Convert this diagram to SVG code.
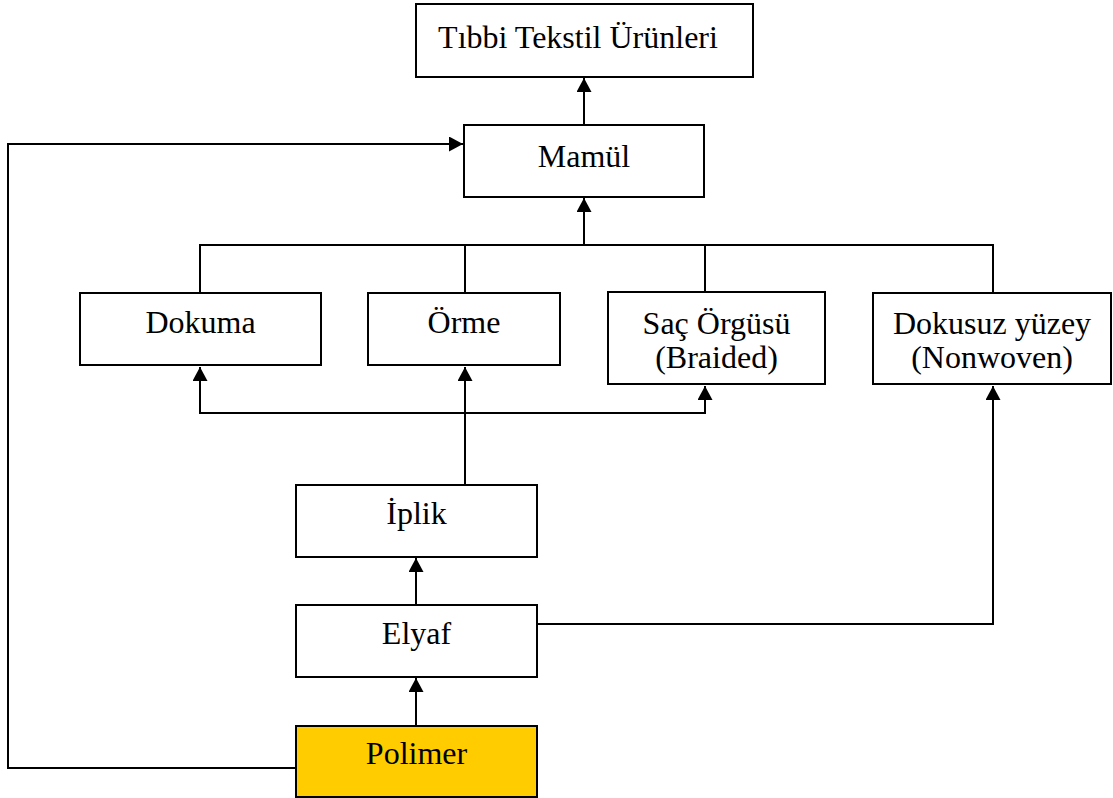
<svg xmlns="http://www.w3.org/2000/svg" width="1113" height="798" viewBox="0 0 1113 798">
<style>
.box{fill:#fff;stroke:#000;stroke-width:2}
.yel{fill:#FFCC00;stroke:#000;stroke-width:2}
.t{font-family:"Liberation Serif","Times New Roman",serif;font-size:32px;fill:#000;text-anchor:middle}
.c{fill:none;stroke:#000;stroke-width:2}
</style>
<defs>
<marker id="ah" markerWidth="16" markerHeight="15" refX="14" refY="7.5" orient="auto" markerUnits="userSpaceOnUse">
<path d="M0,0 L14,7.5 L0,15 Z" fill="#000"/>
</marker>
</defs>
<g id="connectors">
<path class="c" d="M584,125 V78" marker-end="url(#ah)"/>
<path class="c" d="M200,293 V245 H993 V293 M465,245 V293 M705,245 V292"/>
<path class="c" d="M584,245 V198" marker-end="url(#ah)"/>
<path class="c" d="M465,485 V367" marker-end="url(#ah)"/>
<path class="c" d="M465,413 H200 V367" marker-end="url(#ah)"/>
<path class="c" d="M465,413 H705 V386" marker-end="url(#ah)"/>
<path class="c" d="M416,605 V558" marker-end="url(#ah)"/>
<path class="c" d="M416,726 V678" marker-end="url(#ah)"/>
<path class="c" d="M537,624 H993 V386" marker-end="url(#ah)"/>
<path class="c" d="M296,768 H8 V144 H463" marker-end="url(#ah)"/>
</g>
<g id="tibbi"><rect class="box" x="416" y="4" width="337" height="73"/><text class="t" x="578" y="48">Tıbbi Tekstil Ürünleri</text></g>
<g id="mamul"><rect class="box" x="464" y="125" width="240" height="72"/><text class="t" x="584" y="167">Mamül</text></g>
<g id="dokuma"><rect class="box" x="80" y="293" width="241" height="72"/><text class="t" x="200.5" y="333">Dokuma</text></g>
<g id="orme"><rect class="box" x="368" y="293" width="192" height="72"/><text class="t" x="464" y="333">Örme</text></g>
<g id="sac"><rect class="box" x="608" y="292" width="217" height="92"/><text class="t" x="716.5" y="334">Saç Örgüsü</text><text class="t" x="716.5" y="368">(Braided)</text></g>
<g id="dokusuz"><rect class="box" x="873" y="293" width="238" height="91"/><text class="t" x="992" y="334">Dokusuz yüzey</text><text class="t" x="992" y="368">(Nonwoven)</text></g>
<g id="iplik"><rect class="box" x="296" y="485" width="241" height="72"/><text class="t" x="416.5" y="524">İplik</text></g>
<g id="elyaf"><rect class="box" x="296" y="605" width="241" height="72"/><text class="t" x="416.5" y="644">Elyaf</text></g>
<g id="polimer"><rect class="yel" x="296" y="726" width="241" height="71"/><text class="t" x="416.5" y="764">Polimer</text></g>
</svg>
